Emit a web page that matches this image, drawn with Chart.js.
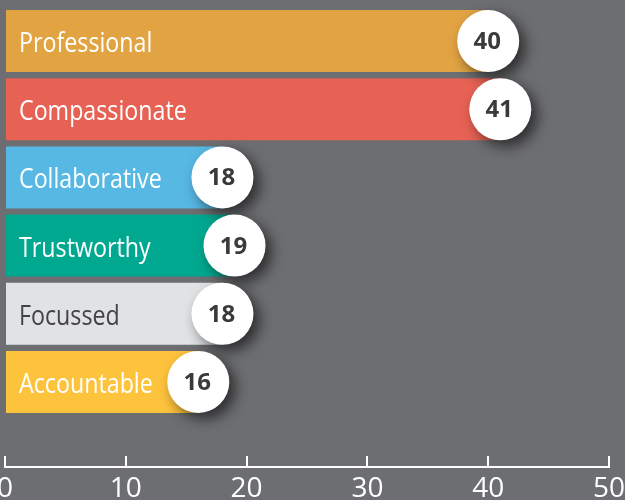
<!DOCTYPE html>
<html>
<head>
<meta charset="utf-8">
<script src="https://cdn.jsdelivr.net/npm/chart.js@4.4.1/dist/chart.umd.min.js"></script>
<style>
  html, body { margin: 0; padding: 0; background: #6d6e71; }
  canvas { display: block; }
</style>
</head>
<body>
<canvas id="chart" width="625" height="500"></canvas>
<script>
// --- data ---
const categories = ['Professional', 'Compassionate', 'Collaborative', 'Trustworthy', 'Focussed', 'Accountable'];
const scores = [40, 41, 18, 19, 18, 16];
const barColors = ['#e2a443', '#e76254', '#57b8e4', '#00a88f', '#e1e2e4', '#fec33d'];
const labelColors = ['#ffffff', '#ffffff', '#ffffff', '#ffffff', '#434345', '#ffffff'];
const xTicks = [0, 10, 20, 30, 40, 50];

// --- labels inside the bars + white badges at the bar ends ---
const badgePlugin = {
  id: 'badges',
  afterDatasetsDraw(chart) {
    const ctx = chart.ctx;
    const meta = chart.getDatasetMeta(0);
    const left = chart.chartArea.left;

    // category names (narrowed a little, the original font is condensed)
    meta.data.forEach((bar, i) => {
      ctx.save();
      ctx.font = '28px "Open Sans"';
      ctx.fillStyle = labelColors[i];
      ctx.textBaseline = 'alphabetic';
      ctx.translate(left + 14, bar.y + 11);
      ctx.scale(0.83, 1);
      ctx.fillText(categories[i], 0, 0);
      ctx.restore();
    });

    // round badges with the score
    meta.data.forEach((bar, i) => {
      const r = bar.height / 2;
      ctx.save();
      ctx.shadowColor = 'rgba(0, 0, 0, 0.6)';
      ctx.shadowBlur = 14;
      ctx.shadowOffsetX = 6;
      ctx.shadowOffsetY = 6;
      ctx.beginPath();
      ctx.arc(bar.x, bar.y, r, 0, Math.PI * 2);
      ctx.fillStyle = '#ffffff';
      ctx.fill();
      ctx.restore();

      ctx.save();
      ctx.font = 'bold 24px "Open Sans"';
      ctx.fillStyle = '#3a3a3c';
      ctx.textAlign = 'center';
      ctx.textBaseline = 'alphabetic';
      ctx.fillText(String(scores[i]), bar.x - 1, bar.y + 8);
      ctx.restore();
    });
  }
};

new Chart(document.getElementById('chart'), {
  type: 'bar',
  data: {
    labels: categories,
    datasets: [{
      data: scores,
      backgroundColor: barColors,
      borderWidth: 0,
      categoryPercentage: 1,
      barPercentage: 0.91
    }]
  },
  options: {
    indexAxis: 'y',
    responsive: false,
    animation: false,
    layout: { padding: { left: 5, right: 16, top: 7, bottom: 84 } },
    plugins: {
      legend: { display: false },
      tooltip: { enabled: false }
    },
    scales: {
      y: { type: 'category', display: false },
      x: {
        type: 'linear',
        position: { y: 6.25 },
        min: xTicks[0],
        max: xTicks[xTicks.length - 1],
        afterBuildTicks: (scale) => { scale.ticks = xTicks.map(v => ({ value: v })); },
        // the edge labels hang off the canvas in the original, so no extra room for them
        afterFit: (scale) => { scale.paddingLeft = 0; scale.paddingRight = 0; },
        grid: { drawOnChartArea: false, drawTicks: true, tickLength: -12, color: '#ffffff', lineWidth: 2 },
        border: { display: true, color: '#ffffff', width: 2 },
        ticks: {
          color: '#ffffff',
          font: { family: 'Open Sans', size: 28 },
          padding: 17,
          maxRotation: 0,
          autoSkip: false
        }
      }
    }
  },
  plugins: [badgePlugin]
});
</script>
</body>
</html>
